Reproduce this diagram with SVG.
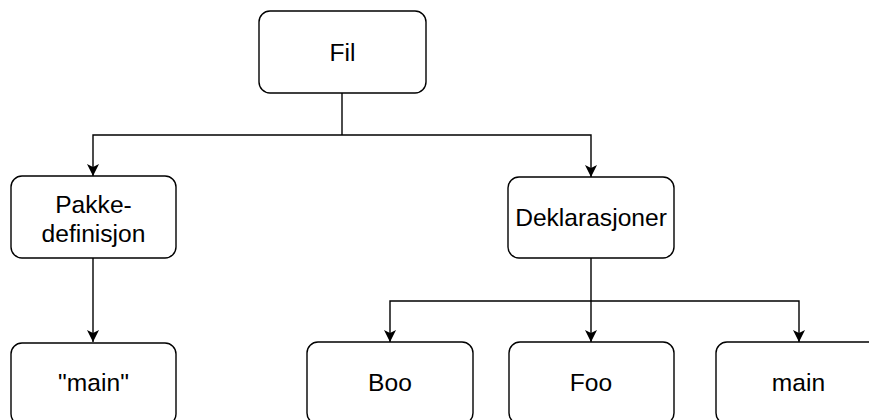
<svg xmlns="http://www.w3.org/2000/svg" width="869" height="420" viewBox="0 0 869 420">
  <style>
    .box { fill: #ffffff; stroke: #000000; stroke-width: 1.4; }
    .lbl { font-family: "Liberation Sans", Arial, sans-serif; font-size: 24.6px; fill: #000000; text-anchor: middle; }
    .edge { fill: none; stroke: #000000; stroke-width: 1.4; }
  </style>
  <defs>
    <marker id="arrow" viewBox="0 0 12 12" refX="12" refY="6" markerWidth="12" markerHeight="12" markerUnits="userSpaceOnUse" orient="auto">
      <path d="M0,0 L12,6 L0,12 L3,6 Z" fill="#000000"/>
    </marker>
  </defs>
  <rect width="869" height="420" fill="#ffffff"/>
  <g id="connectors">
    <path class="edge" d="M342,93 V135"/>
    <path class="edge" d="M342,135 H93 V176" marker-end="url(#arrow)"/>
    <path class="edge" d="M342,135 H591 V177" marker-end="url(#arrow)"/>
    <path class="edge" d="M93,258 V342" marker-end="url(#arrow)"/>
    <path class="edge" d="M591,258 V342" marker-end="url(#arrow)"/>
    <path class="edge" d="M591,301 H390 V342" marker-end="url(#arrow)"/>
    <path class="edge" d="M591,301 H799 V342" marker-end="url(#arrow)"/>
  </g>
  <g id="fil">
    <rect class="box" x="259" y="11" width="167" height="82" rx="11"/>
    <text class="lbl" x="342.5" y="61">Fil</text>
  </g>
  <g id="pakkedefinisjon">
    <rect class="box" x="11" y="176" width="165" height="82" rx="11"/>
    <text class="lbl" x="93.5" y="213">Pakke-</text>
    <text class="lbl" x="93.5" y="242">definisjon</text>
  </g>
  <g id="deklarasjoner">
    <rect class="box" x="508" y="177" width="166" height="81" rx="11"/>
    <text class="lbl" x="591" y="226">Deklarasjoner</text>
  </g>
  <g id="main-string">
    <rect class="box" x="11" y="343" width="165" height="82" rx="11"/>
    <text class="lbl" x="93.5" y="391">"main"</text>
  </g>
  <g id="boo">
    <rect class="box" x="307" y="342" width="166" height="82" rx="11"/>
    <text class="lbl" x="390" y="391">Boo</text>
  </g>
  <g id="foo">
    <rect class="box" x="509" y="342" width="165" height="82" rx="11"/>
    <text class="lbl" x="591" y="391">Foo</text>
  </g>
  <g id="main">
    <rect class="box" x="716" y="342" width="165" height="82" rx="11"/>
    <text class="lbl" x="798.5" y="391">main</text>
  </g>
</svg>
